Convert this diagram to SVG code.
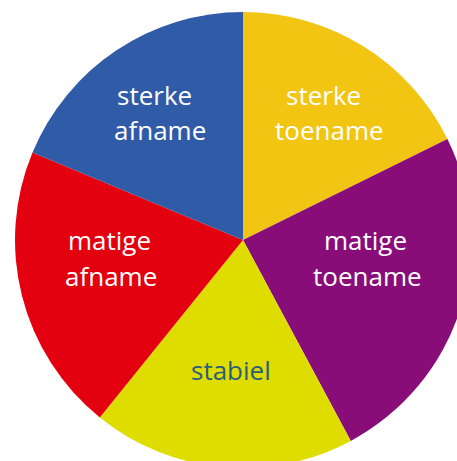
<svg xmlns="http://www.w3.org/2000/svg" width="457" height="461" viewBox="0 0 457 461">
<style>
.lbl{font-family:"Open Sans","Noto Sans","DejaVu Sans",sans-serif;font-size:26px;fill:#ffffff}
.dark{fill:#2B5E7C}
</style>
<rect width="457" height="461" fill="#ffffff"/>
<g id="slice-sterke-toename">
<path d="M243,240 L243,12 A228,228 0 0 1 447.4,139 Z" fill="#F2C512"/>
<text class="lbl" x="286" y="105">sterke</text>
<text class="lbl" x="275" y="140">toename</text>
</g>
<g id="slice-matige-toename">
<path d="M243,240 L447.4,139 A228,228 0 0 1 350.8,440.9 Z" fill="#880D79"/>
<text class="lbl" x="324" y="250">matige</text>
<text class="lbl" x="313" y="286">toename</text>
</g>
<g id="slice-stabiel">
<path d="M243,240 L350.8,440.9 A228,228 0 0 1 99.8,417.4 Z" fill="#DFDD00"/>
<text class="lbl dark" x="191" y="380">stabiel</text>
</g>
<g id="slice-matige-afname">
<path d="M243,240 L99.8,417.4 A228,228 0 0 1 32.5,152.4 Z" fill="#E3000F"/>
<text class="lbl" x="68" y="250">matige</text>
<text class="lbl" x="65" y="286">afname</text>
</g>
<g id="slice-sterke-afname">
<path d="M243,240 L32.5,152.4 A228,228 0 0 1 243,12 Z" fill="#2F5BA7"/>
<text class="lbl" x="117" y="105">sterke</text>
<text class="lbl" x="114" y="140">afname</text>
</g>
<g id="connectors"></g>
</svg>
